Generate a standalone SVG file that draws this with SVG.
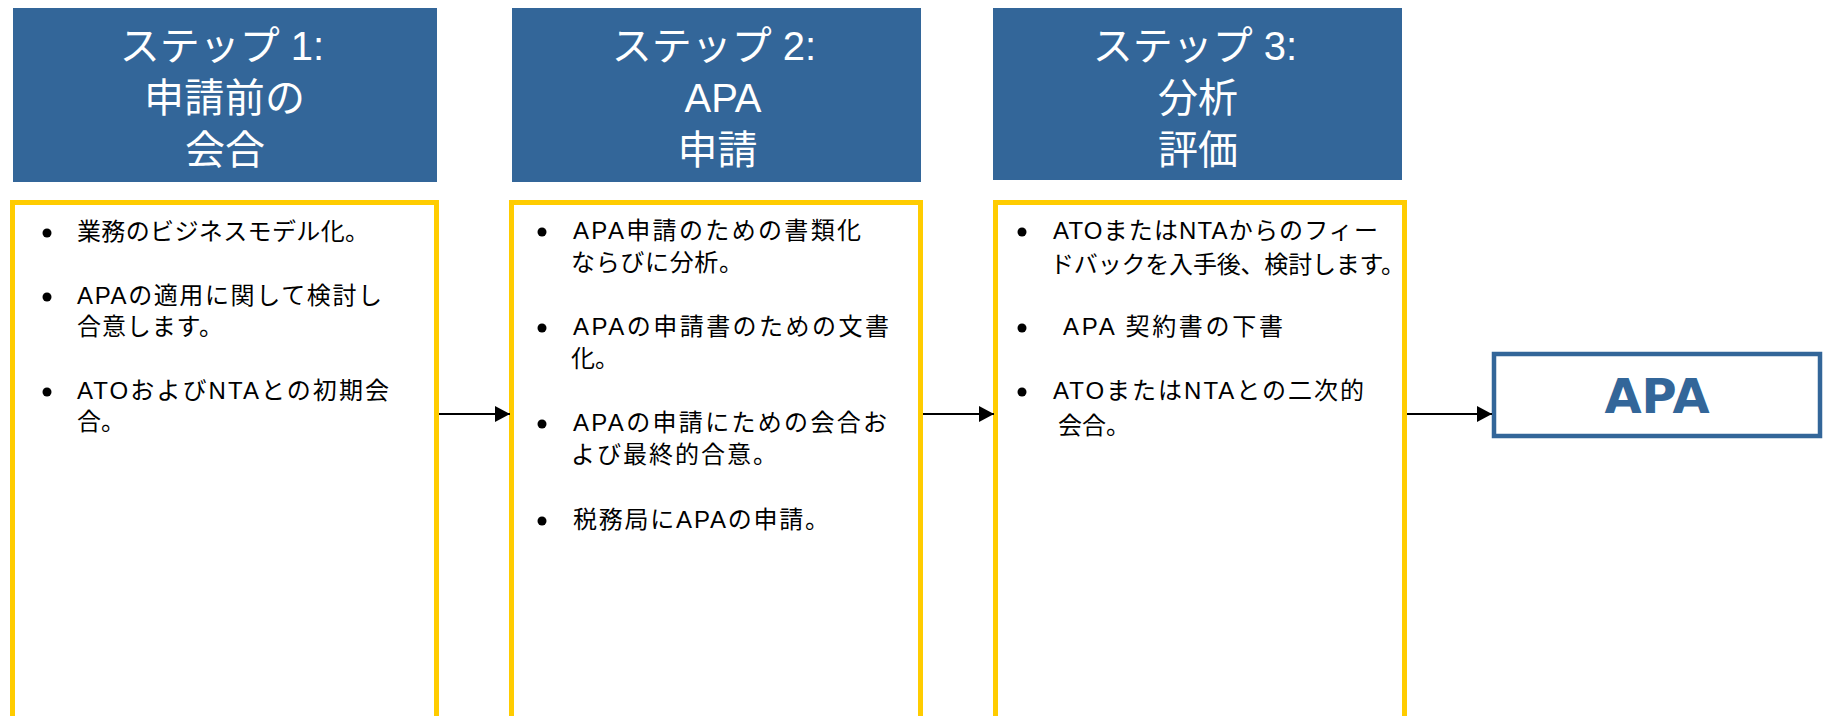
<svg xmlns="http://www.w3.org/2000/svg" width="1826" height="716" viewBox="0 0 1826 716">
  <defs>
    <style>
      .hdr { fill: #336699; }
      .hdrt { font-family: "Liberation Sans", "Noto Sans CJK JP", sans-serif; font-size: 40px; fill: #ffffff; text-anchor: middle; }
      .box { fill: #ffffff; stroke: #ffcc00; stroke-width: 5; }
      .body { font-family: "Liberation Sans", "Noto Sans CJK JP", sans-serif; font-size: 24px; fill: #000000; }
      .bul { fill: #000000; }
      .conn { stroke: #000000; stroke-width: 2; fill: none; }
      .apa { fill: #ffffff; stroke: #336699; stroke-width: 4.5; }
      .apat { font-family: "DejaVu Sans", sans-serif; font-weight: bold; font-size: 48px; fill: #336699; text-anchor: middle; }
    </style>
    <marker id="arr" markerUnits="userSpaceOnUse" markerWidth="16" markerHeight="16" refX="15" refY="8" orient="auto">
      <path d="M0,0 L15,8 L0,16 z" fill="#000000"/>
    </marker>
  </defs>
  <rect width="1826" height="716" fill="#ffffff"/>

  <g id="step1">
    <rect class="hdr" x="13" y="8" width="424" height="174"/>
    <text class="hdrt" x="222" y="60">ステップ 1:</text>
    <text class="hdrt" x="224.5" y="112" textLength="161" lengthAdjust="spacing">申請前の</text>
    <text class="hdrt" x="225" y="164">会合</text>
    <rect class="box" x="12.5" y="202.5" width="424" height="560"/>
    <circle class="bul" cx="47" cy="233" r="4.5"/>
    <text class="body" x="77" y="240" textLength="292" lengthAdjust="spacing">業務のビジネスモデル化。</text>
    <circle class="bul" cx="47" cy="297" r="4.5"/>
    <text class="body" x="77" y="304" textLength="305" lengthAdjust="spacing">APAの適用に関して検討し</text>
    <text class="body" x="77" y="335" textLength="146" lengthAdjust="spacing">合意します。</text>
    <circle class="bul" cx="47" cy="392" r="4.5"/>
    <text class="body" x="77" y="399" textLength="312" lengthAdjust="spacing">ATOおよびNTAとの初期会</text>
    <text class="body" x="77" y="430">合。</text>
  </g>

  <g id="step2">
    <rect class="hdr" x="512" y="8" width="409" height="174"/>
    <text class="hdrt" x="714" y="60">ステップ 2:</text>
    <text class="hdrt" x="723" y="112">APA</text>
    <text class="hdrt" x="717.5" y="164">申請</text>
    <rect class="box" x="511.5" y="202.5" width="409" height="560"/>
    <circle class="bul" cx="542" cy="232" r="4.5"/>
    <text class="body" x="573" y="239" textLength="288" lengthAdjust="spacing">APA申請のための書類化</text>
    <text class="body" x="571" y="271" textLength="172" lengthAdjust="spacing">ならびに分析。</text>
    <circle class="bul" cx="542" cy="328" r="4.5"/>
    <text class="body" x="573" y="335" textLength="316" lengthAdjust="spacing">APAの申請書のための文書</text>
    <text class="body" x="571" y="367">化。</text>
    <circle class="bul" cx="542" cy="424" r="4.5"/>
    <text class="body" x="573" y="431" textLength="314" lengthAdjust="spacing">APAの申請にための会合お</text>
    <text class="body" x="571" y="463" textLength="206" lengthAdjust="spacing">よび最終的合意。</text>
    <circle class="bul" cx="542" cy="521" r="4.5"/>
    <text class="body" x="573" y="528" textLength="256" lengthAdjust="spacing">税務局にAPAの申請。</text>
  </g>

  <g id="step3">
    <rect class="hdr" x="993" y="8" width="409" height="172"/>
    <text class="hdrt" x="1195" y="60">ステップ 3:</text>
    <text class="hdrt" x="1198" y="112">分析</text>
    <text class="hdrt" x="1198" y="164">評価</text>
    <rect class="box" x="995.5" y="202.5" width="409" height="560"/>
    <circle class="bul" cx="1022" cy="232" r="4.5"/>
    <text class="body" x="1053" y="239" textLength="325" lengthAdjust="spacing">ATOまたはNTAからのフィー</text>
    <text class="body" x="1050" y="273" textLength="355" lengthAdjust="spacing">ドバックを入手後、検討します。</text>
    <circle class="bul" cx="1022" cy="328" r="4.5"/>
    <text class="body" x="1063" y="335" textLength="220" lengthAdjust="spacing">APA 契約書の下書</text>
    <circle class="bul" cx="1022" cy="392" r="4.5"/>
    <text class="body" x="1053" y="399" textLength="311" lengthAdjust="spacing">ATOまたはNTAとの二次的</text>
    <text class="body" x="1058" y="434">会合。</text>
  </g>

  <g id="apa">
    <rect class="apa" x="1494" y="354" width="326" height="82"/>
    <text class="apat" x="1657" y="413">APA</text>
  </g>

  <g id="connectors">
    <line class="conn" x1="439" y1="414" x2="510" y2="414" marker-end="url(#arr)"/>
    <line class="conn" x1="923" y1="414" x2="994" y2="414" marker-end="url(#arr)"/>
    <line class="conn" x1="1407" y1="414" x2="1492" y2="414" marker-end="url(#arr)"/>
  </g>
</svg>
